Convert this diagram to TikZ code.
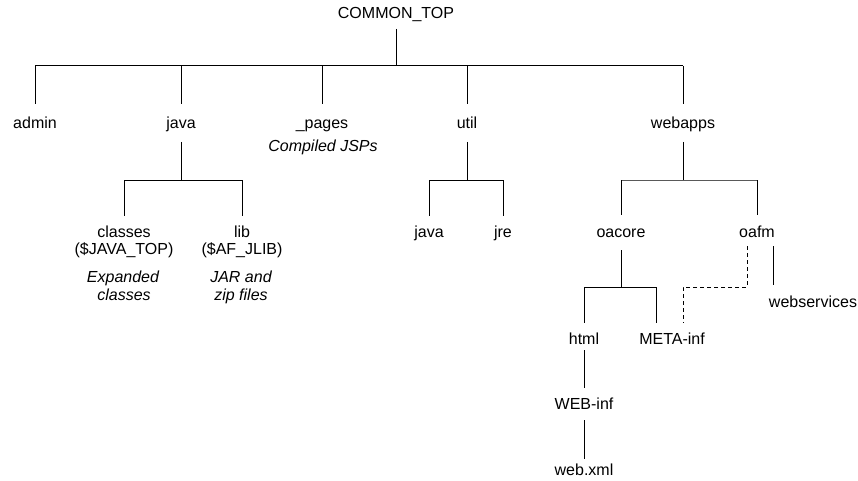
\documentclass[tikz,border=0pt]{standalone}
\usepackage{fontspec}
\setmainfont{Liberation Sans}
\begin{document}
\begin{tikzpicture}[x=1pt,y=1pt,
  lbl/.style={anchor=base,inner sep=0pt,font=\fontsize{16}{19}\selectfont},
  note/.style={lbl,font=\fontsize{16}{19}\selectfont\itshape},
  link/.style={line width=1pt,black},
  dlink/.style={line width=1pt,black,dash pattern=on 4pt off 3pt}]
\useasboundingbox (0,0) rectangle (858,-481);
% nodes
\node[lbl] (top) at (396,-19) {COMMON\_TOP};
\node[lbl] (admin) at (35,-129) {admin};
\node[lbl] (java) at (181,-129) {java};
\node[lbl] (pages) at (322,-129) {\_pages};
\node[lbl] (util) at (467,-129) {util};
\node[lbl] (webapps) at (683,-129) {webapps};
\node[note] (jsp) at (323,-152) {Compiled JSPs};
\node[lbl] (classes) at (124,-237) {classes};
\node[lbl] (javatop) at (124,-254) {(\$JAVA\_TOP)};
\node[note] (exp1) at (123,-282) {Expanded};
\node[note] (exp2) at (124,-300) {classes};
\node[lbl] (lib) at (242,-237) {lib};
\node[lbl] (afjlib) at (242,-254) {(\$AF\_JLIB)};
\node[note] (jar1) at (241,-282) {JAR and};
\node[note] (jar2) at (241,-300) {zip files};
\node[lbl] (ujava) at (429,-237) {java};
\node[lbl] (jre) at (503,-237) {jre};
\node[lbl] (oacore) at (621,-237) {oacore};
\node[lbl] (oafm) at (757,-237) {oafm};
\node[lbl] (html) at (584,-344) {html};
\node[lbl] (meta) at (672,-344) {META-inf};
\node[lbl] (websvc) at (813,-307) {webservices};
\node[lbl] (webinf) at (584,-409) {WEB-inf};
\node[lbl] (webxml) at (584,-475) {web.xml};
% bus coordinates
\coordinate (bus) at (0,-66);
\coordinate (jbus) at (0,-180);
\coordinate (wbus) at (0,-180);
\coordinate (obus) at (0,-287);
% top level
\draw[link] ([yshift=-10pt]top.base) -- (top.base |- bus);
\draw[link] (admin.base |- bus) -- (webapps.base |- bus);
\foreach \n in {admin,java,pages,util,webapps}
  \draw[link] (\n.base |- bus) -- ([yshift=25pt]\n.base);
% java subtree
\draw[link] ([yshift=-13pt]java.base) -- (java.base |- jbus);
\draw[link] (classes.base |- jbus) -- (lib.base |- jbus);
\foreach \n in {classes,lib}
  \draw[link] (\n.base |- jbus) -- ([yshift=21pt]\n.base);
% util subtree
\draw[link] ([yshift=-13pt]util.base) -- (util.base |- jbus);
\draw[link] (ujava.base |- jbus) -- (jre.base |- jbus);
\foreach \n in {ujava,jre}
  \draw[link] (\n.base |- jbus) -- ([yshift=21pt]\n.base);
% webapps subtree
\draw[link] ([yshift=-13pt]webapps.base) -- (webapps.base |- wbus);
\draw[link,black!65] (oacore.base |- wbus) -- (oafm.base |- wbus);
\foreach \n in {oacore,oafm}
  \draw[link] (\n.base |- wbus) -- ([yshift=22pt]\n.base);
% oacore subtree
\draw[link] ([yshift=-13pt]oacore.base) -- (oacore.base |- obus);
\draw[link] (html.base |- obus) -- ([xshift=-16pt]meta.base |- obus);
\draw[link] (html.base |- obus) -- ([yshift=21pt]html.base);
\draw[link] ([xshift=-16pt]meta.base |- obus) -- ([xshift=-16pt,yshift=21pt]meta.base);
% oafm subtree
\draw[dlink] ([xshift=-10pt,yshift=-9pt]oafm.base) -- ([xshift=-10pt]oafm.base |- obus)
  -- ([xshift=11pt]meta.base |- obus) -- ([xshift=11pt,yshift=21pt]meta.base);
\draw[link] ([xshift=16pt,yshift=-9pt]oafm.base) -- ([xshift=-40pt,yshift=22pt]websvc.base);
% html chain
\draw[link] ([yshift=-6pt]html.base) -- ([yshift=21pt]webinf.base);
\draw[link] ([yshift=-11pt]webinf.base) -- ([yshift=16pt]webxml.base);
\end{tikzpicture}
\end{document}
